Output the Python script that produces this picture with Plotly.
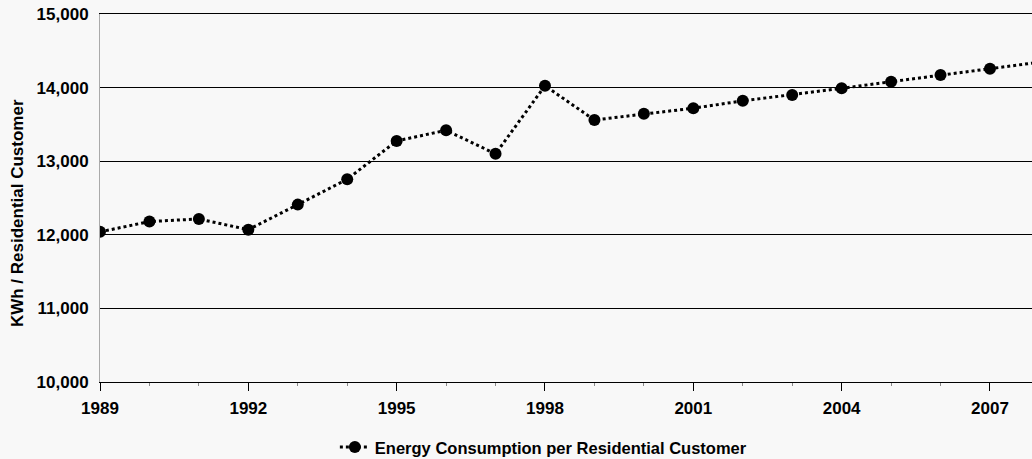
import plotly.graph_objects as go

years = list(range(1989, 2009))
kwh = [12040, 12180, 12215, 12070, 12410, 12755, 13275, 13420, 13100, 14025,
       13560, 13645, 13720, 13820, 13900, 13990, 14080, 14170, 14255, 14345]
series_name = "Energy Consumption per Residential Customer"
y_title = "KWh / Residential Customer"
x_ticks = [1989, 1992, 1995, 1998, 2001, 2004, 2007]
y_ticks = [10000, 11000, 12000, 13000, 14000, 15000]

FONT = "Liberation Sans, Arial, sans-serif"
BG = "#f8f8f8"

fig = go.Figure()
fig.add_trace(go.Scatter(
    x=years, y=kwh, mode="lines+markers", name=series_name,
    line=dict(color="black", width=3, dash="dot"),
    marker=dict(color="black", size=12, symbol="circle"),
    cliponaxis=True,
))

fig.update_layout(
    width=1032, height=459,
    paper_bgcolor=BG, plot_bgcolor=BG,
    margin=dict(l=100, r=0, t=14, b=77, autoexpand=False),
    font=dict(family=FONT, color="black", size=15, weight="bold"),
    showlegend=True,
    legend=dict(orientation="h", x=0.252, xanchor="left", y=-0.13, yanchor="top",
                font=dict(size=16.5, family=FONT, weight="bold"),
                bgcolor="rgba(0,0,0,0)"),
    annotations=[dict(
        text=y_title, textangle=-90, xref="paper", yref="paper",
        x=(17 - 100) / 932, y=0.459, xanchor="center", yanchor="middle",
        showarrow=False, font=dict(size=17, family=FONT, weight="bold"),
    )],
)
fig.update_xaxes(
    range=[1989, 2007.85], tickvals=x_ticks, ticktext=[str(v) for v in x_ticks],
    showgrid=False, zeroline=False, showline=True, linecolor="black", linewidth=1,
    mirror=True, automargin=False,
    ticks="outside", ticklen=8, tickcolor="black", tickwidth=1, ticklabelstandoff=3,
    tickfont=dict(size=17, family=FONT, weight="bold"),
    minor=dict(dtick=1, ticks="outside", ticklen=3, tickcolor="#888"),
)
fig.update_yaxes(
    range=[10000, 15000], tickvals=y_ticks, tickformat=",",
    showgrid=True, gridcolor="black", gridwidth=1, zeroline=False,
    showline=True, linecolor="#aaa", linewidth=1, automargin=False,
    ticks="", ticklabelstandoff=7, ticklabeloverflow="allow",
    tickfont=dict(size=17, family=FONT, weight="bold"),
)

fig.write_html("out.html", config={"displayModeBar": False},
               post_script="document.body.style.margin='0';")
